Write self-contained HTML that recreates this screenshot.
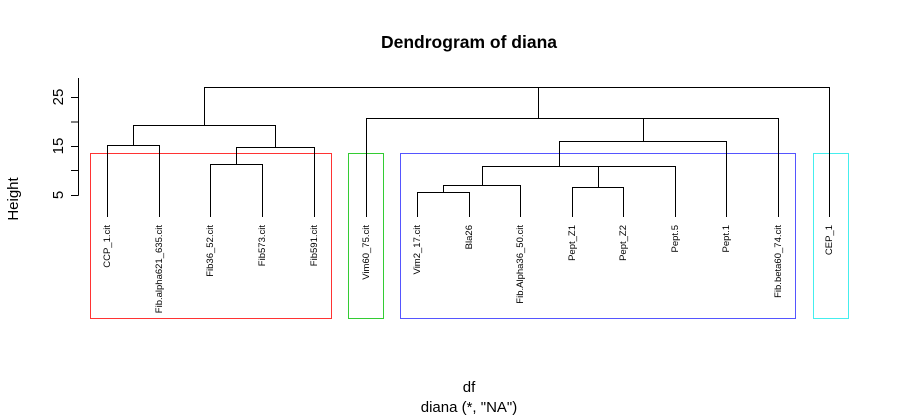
<!DOCTYPE html>
<html><head><meta charset="utf-8"><style>
html,body{margin:0;padding:0;background:#fff}
svg{display:block;font-family:"Liberation Sans",Arial,sans-serif}
</style></head><body>
<svg width="900" height="416" viewBox="0 0 900 416">
<text x="469" y="48" text-anchor="middle" font-size="17.5" font-weight="bold">Dendrogram of diana</text>
<!-- axis -->
<g stroke="#000" stroke-width="1" fill="none">
<path d="M78.5 78 V195.5"/>
<path d="M71 97.5 H78.5 M71 122 H78.5 M71 146.5 H78.5 M71 170.5 H78.5 M71 195.5 H78.5"/>
</g>
<g font-size="15" text-anchor="middle">
<text transform="translate(63,97) rotate(-90)">25</text>
<text transform="translate(63,146) rotate(-90)">15</text>
<text transform="translate(63,195) rotate(-90)">5</text>
<text transform="translate(18,199) rotate(-90)">Height</text>
</g>
<!-- rectangles -->
<g fill="none" stroke-width="1">
<rect x="90.5" y="153.5" width="241" height="165" stroke="#f33"/>
<rect x="348.5" y="153.5" width="35" height="165" stroke="#3c3"/>
<rect x="400.5" y="153.5" width="395" height="165" stroke="#55f"/>
<rect x="813.5" y="153.5" width="35" height="165" stroke="#4ee"/>
</g>
<!-- dendrogram -->
<g stroke="#000" stroke-width="1" fill="none">
<path d="M107.5 217 V145.5 H159.5 V217"/>
<path d="M210.5 217 V164.5 H262.5 V217"/>
<path d="M236.5 164.5 V147.5 H314.5 V217"/>
<path d="M133.5 145.5 V125.5 H275.5 V147.5"/>
<path d="M417.5 217 V192.5 H469.5 V217"/>
<path d="M443.5 192.5 V185.5 H520.5 V217"/>
<path d="M572.5 217 V187.5 H623.5 V217"/>
<path d="M598.5 187.5 V166.5 H675.5 V217"/>
<path d="M482.5 185.5 V166.5 H598.5"/>
<path d="M559.5 166.5 V141.5 H726.5 V217"/>
<path d="M643.5 141.5 V118.5 H778.5 V217"/>
<path d="M366.5 217 V118.5 H643.5"/>
<path d="M538.5 118.5 V87.5"/>
<path d="M204.5 125.5 V87.5 H829.5 V217"/>
</g>
<!-- leaf labels -->
<g font-size="9.5" text-anchor="end">
<text transform="translate(110,225) rotate(-90)">CCP_1.cit</text>
<text transform="translate(162,225) rotate(-90)">Fib.alpha621_635.cit</text>
<text transform="translate(213,225) rotate(-90)">Fib36_52.cit</text>
<text transform="translate(265,225) rotate(-90)">Fib573.cit</text>
<text transform="translate(317,225) rotate(-90)">Fib591.cit</text>
<text transform="translate(369,225) rotate(-90)">Vim60_75.cit</text>
<text transform="translate(420,225) rotate(-90)">Vim2_17.cit</text>
<text transform="translate(472,225) rotate(-90)">Bla26</text>
<text transform="translate(523,225) rotate(-90)">Fib.Alpha36_50.cit</text>
<text transform="translate(575,225) rotate(-90)">Pept_Z1</text>
<text transform="translate(626,225) rotate(-90)">Pept_Z2</text>
<text transform="translate(678,225) rotate(-90)">Pept.5</text>
<text transform="translate(729,225) rotate(-90)">Pept.1</text>
<text transform="translate(781,225) rotate(-90)">Fib.beta60_74.cit</text>
<text transform="translate(832,225) rotate(-90)">CEP_1</text>
</g>
<g font-size="15" text-anchor="middle">
<text x="469" y="392">df</text>
<text x="469" y="412">diana (*, "NA")</text>
</g>
</svg>
</body></html>
